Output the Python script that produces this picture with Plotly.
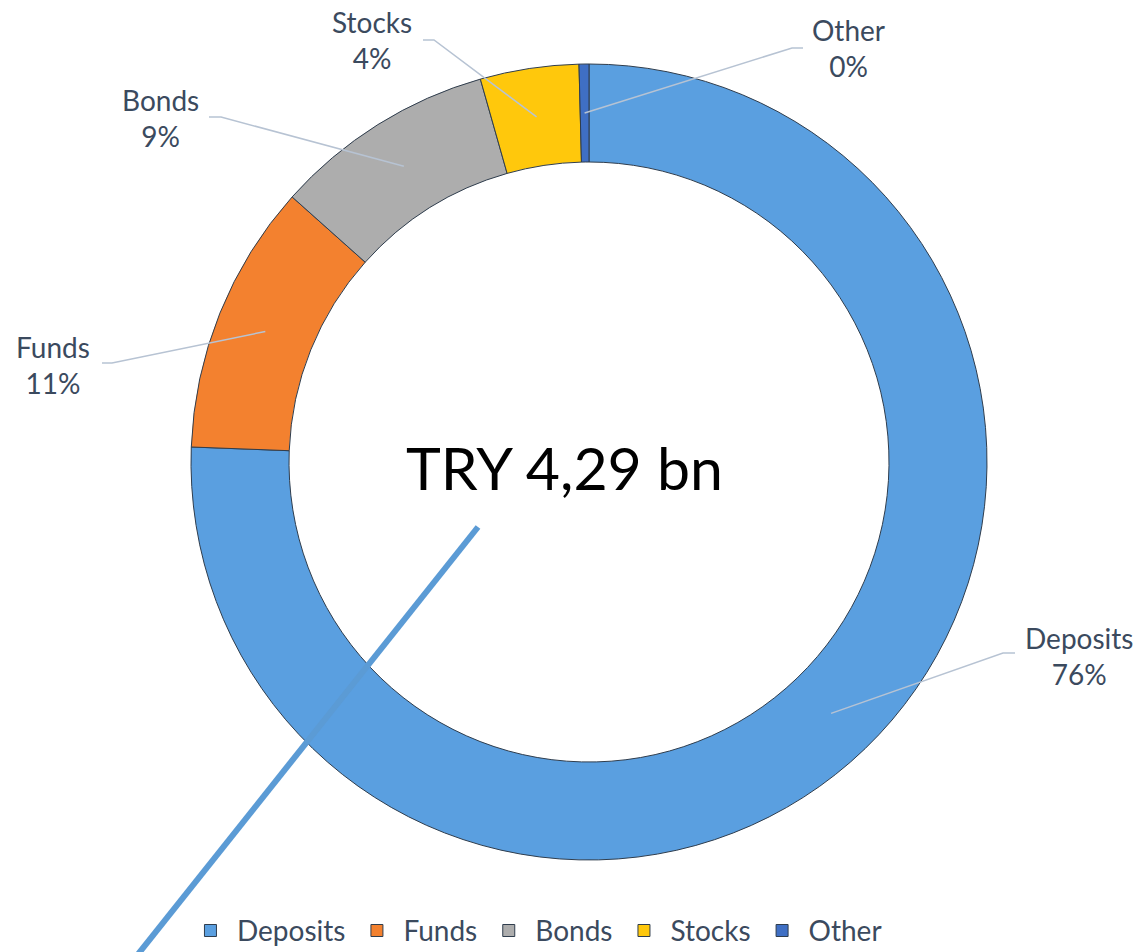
import math
import plotly.graph_objects as go

# ---- data ----
categories = ["Deposits", "Funds", "Bonds", "Stocks", "Other"]
values = [75.6, 11.0, 9.0, 4.0, 0.4]
center_label = "TRY 4,29 bn"

# ---- style ----
colors = ["#5a9fe0", "#f3812f", "#adadad", "#ffc80c", "#3f6fc4"]
W, H = 1140, 952
CX, CY = 589, 462          # donut centre (px)
R_OUT, R_IN = 398, 300     # radii (px)
R_MID = (R_OUT + R_IN) / 2
TEXT_COLOR = "#3b4a5e"
LINE_COLOR = "#b7c3d3"
FONT = "Lato, 'Open Sans', sans-serif"

# label placement (px): text centre, elbow point, line end point
label_pos = {
    "Deposits": dict(t=(1079, 656), elbow=(1003, 653), end=(1015, 653)),
    "Funds":    dict(t=(53, 365),   elbow=(112, 363),  end=(102, 363)),
    "Bonds":    dict(t=(160, 118),  elbow=(221, 117),  end=(209, 117)),
    "Stocks":   dict(t=(372, 40),   elbow=(434, 40),   end=(423, 40)),
    "Other":    dict(t=(848, 48),   elbow=(792, 48),   end=(803, 48)),
}

def px(x):
    return x / W

def py(y):
    return 1 - y / H

fig = go.Figure()
fig.add_trace(go.Pie(
    labels=categories,
    values=values,
    hole=R_IN / R_OUT,
    sort=False,
    direction="clockwise",
    rotation=0,
    textinfo="none",
    marker=dict(colors=colors, line=dict(color="#2f3d4d", width=1)),
    domain=dict(x=[px(CX - R_OUT), px(CX + R_OUT)], y=[py(CY + R_OUT), py(CY - R_OUT)]),
    showlegend=True,
))

total = sum(values)
shapes = []
annotations = []
cum = 0.0
for cat, v in zip(categories, values):
    mid = (cum + v / 2) / total * 360.0
    cum += v
    th = math.radians(mid)
    sx = CX + R_MID * math.sin(th)
    sy = CY - R_MID * math.cos(th)
    lp = label_pos[cat]
    ex, ey = lp["elbow"]
    fx, fy = lp["end"]
    shapes.append(dict(
        type="path", xref="paper", yref="paper",
        path=f"M {px(sx)} {py(sy)} L {px(ex)} {py(ey)} L {px(fx)} {py(fy)}",
        line=dict(color=LINE_COLOR, width=1.5), layer="above",
    ))
    pct = round(v / total * 100)
    tx, ty = lp["t"]
    annotations.append(dict(
        x=px(tx), y=py(ty), xref="paper", yref="paper",
        text=f"{cat}<br>{pct}%", showarrow=False, align="center",
        font=dict(size=28, color=TEXT_COLOR, family=FONT),
        xanchor="center", yanchor="middle",
    ))

# centre text
annotations.append(dict(
    x=px(564), y=py(467), xref="paper", yref="paper",
    text=center_label, showarrow=False,
    font=dict(size=59, color="#000000", family=FONT),
    xanchor="center", yanchor="middle",
))

# stray thick blue line
shapes.append(dict(
    type="line", xref="paper", yref="paper",
    x0=px(478), y0=py(527), x1=px(135), y1=py(958),
    line=dict(color="#5b9bd5", width=6), layer="above",
))

fig.update_layout(
    width=W, height=H,
    margin=dict(l=0, r=0, t=0, b=0, autoexpand=False),
    paper_bgcolor="white", plot_bgcolor="white",
    shapes=shapes,
    annotations=annotations,
    legend=dict(
        orientation="h", x=0.4697, xanchor="center", y=-0.004, yanchor="bottom",
        font=dict(size=28, color=TEXT_COLOR, family=FONT),
        itemwidth=43, tracegroupgap=0,
    ),
)

fig.write_html("out.html", config={"displayModeBar": False},
               post_script="document.body.style.margin='0';")
